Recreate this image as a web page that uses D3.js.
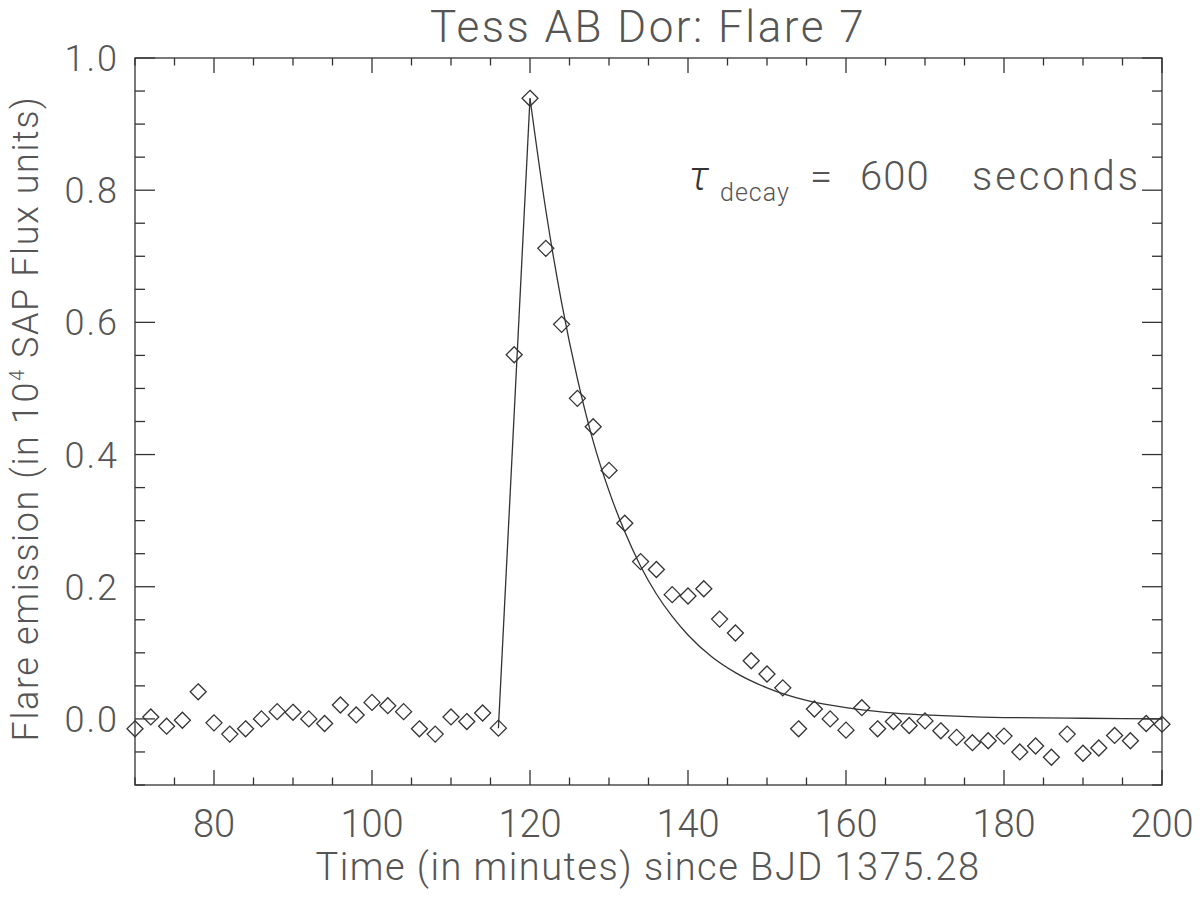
<!DOCTYPE html>
<html>
<head>
<meta charset="utf-8">
<script src="https://cdn.jsdelivr.net/npm/d3@7"></script>
<style>
  body { margin: 0; background: #fff; }
  text { font-family: Roboto, "DejaVu Sans", sans-serif; font-weight: 300; fill: #555; }
</style>
</head>
<body>
<div id="chart"></div>
<script>
// flare light curve (minutes, 1e4 SAP flux)
const times = [70, 72, 74, 76, 78, 80, 82, 84, 86, 88, 90, 92, 94, 96, 98, 100, 102, 104, 106, 108,
  110, 112, 114, 116, 118, 120, 122, 124, 126, 128, 130, 132, 134, 136, 138, 140, 142, 144, 146, 148,
  150, 152, 154, 156, 158, 160, 162, 164, 166, 168, 170, 172, 174, 176, 178, 180, 182, 184, 186, 188,
  190, 192, 194, 196, 198, 200];
const flux = [-0.015, 0.003, -0.011, -0.002, 0.041, -0.006, -0.023, -0.015, 0.0, 0.011, 0.010, 0.0, -0.007, 0.021, 0.006, 0.025, 0.020, 0.011, -0.015, -0.023,
  0.003, -0.004, 0.009, -0.014, 0.551, 0.939, 0.712, 0.597, 0.485, 0.442, 0.376, 0.296, 0.238, 0.226, 0.188, 0.186, 0.197, 0.151, 0.130, 0.088,
  0.068, 0.047, -0.015, 0.015, 0.0, -0.017, 0.017, -0.015, -0.004, -0.010, -0.003, -0.018, -0.028, -0.036, -0.033, -0.026, -0.050, -0.041, -0.058, -0.023,
  -0.052, -0.044, -0.025, -0.033, -0.007, -0.008];

// fitted model: straight rise, then decay (sampled off the plot)
const riseTimes = [116, 120];
const riseFlux = [-0.014, 0.939];
const decayTimes = [120, 122, 124, 126, 128, 130, 132, 134, 136, 138, 140, 143, 146, 150, 155, 160, 165, 170, 180, 190, 200];
const decayFlux = [0.939, 0.77, 0.63, 0.515, 0.42, 0.345, 0.283, 0.231, 0.189, 0.155, 0.127, 0.094, 0.070, 0.047, 0.028, 0.017, 0.010, 0.006, 0.002, 0.001, 0.0];

const xMajor = [80, 100, 120, 140, 160, 180, 200];
const yMajor = [0.0, 0.2, 0.4, 0.6, 0.8, 1.0];

const width = 1200, height = 897;
const margin = {top: 58, right: 38, bottom: 112, left: 135};

const svg = d3.select("#chart").append("svg")
  .attr("width", width)
  .attr("height", height);

const x = d3.scaleLinear().domain([70, 200]).range([margin.left, width - margin.right]);
const y = d3.scaleLinear().domain([-0.1, 1.0]).range([height - margin.bottom, margin.top]);

const axisColor = "#333";
const xMinor = d3.range(70, 201, 5);
const yMinor = d3.range(-0.1, 1.0001, 0.05).map(v => +v.toFixed(2));
const isMajX = v => v % 20 === 0;
const isMajY = v => Math.abs(Math.round(v * 5) - v * 5) < 1e-6 && v >= 0;

const frame = svg.append("g").attr("stroke", axisColor).attr("stroke-width", 1.3).attr("fill", "none");
frame.append("rect")
  .attr("x", x(70)).attr("y", y(1.0))
  .attr("width", x(200) - x(70)).attr("height", y(-0.1) - y(1.0));

xMinor.forEach(v => {
  const len = isMajX(v) ? 15 : 7.5;
  frame.append("line").attr("x1", x(v)).attr("x2", x(v)).attr("y1", y(-0.1)).attr("y2", y(-0.1) - len);
  frame.append("line").attr("x1", x(v)).attr("x2", x(v)).attr("y1", y(1.0)).attr("y2", y(1.0) + len);
});
yMinor.forEach(v => {
  const len = isMajY(v) ? 20 : 10;
  frame.append("line").attr("x1", x(70)).attr("x2", x(70) + len).attr("y1", y(v)).attr("y2", y(v));
  frame.append("line").attr("x1", x(200)).attr("x2", x(200) - len).attr("y1", y(v)).attr("y2", y(v));
});

svg.append("g").selectAll("text").data(xMajor).join("text")
  .attr("x", d => x(d)).attr("y", 837)
  .attr("text-anchor", "middle")
  .style("font-size", "38px")
  .text(d => d);

svg.append("g").selectAll("text").data(yMajor).join("text")
  .attr("x", 119).attr("y", d => y(d) + 13)
  .attr("text-anchor", "end")
  .style("font-size", "36px")
  .style("letter-spacing", "2px")
  .text(d => d.toFixed(1));

// fit line
const line = d3.line().x(d => x(d[0])).y(d => y(d[1]));
svg.append("path")
  .datum(riseTimes.map((t, i) => [t, riseFlux[i]]))
  .attr("fill", "none")
  .attr("stroke", axisColor)
  .attr("stroke-width", 1.3)
  .attr("d", line);
svg.append("path")
  .datum(decayTimes.map((t, i) => [t, decayFlux[i]]))
  .attr("fill", "none")
  .attr("stroke", axisColor)
  .attr("stroke-width", 1.3)
  .attr("d", line.curve(d3.curveMonotoneX));

// data diamonds
svg.append("g").selectAll("path").data(times.map((t, i) => [t, flux[i]])).join("path")
  .attr("transform", d => `translate(${x(d[0])},${y(d[1])})`)
  .attr("d", "M0,-8L8,0L0,8L-8,0Z")
  .attr("fill", "none")
  .attr("stroke", axisColor)
  .attr("stroke-width", 1.3);

// titles
svg.append("text")
  .attr("x", 648).attr("y", 42)
  .attr("text-anchor", "middle")
  .style("font-size", "44px")
  .style("letter-spacing", "2.5px")
  .text("Tess AB Dor: Flare 7");

svg.append("text")
  .attr("x", 648).attr("y", 880)
  .attr("text-anchor", "middle")
  .style("font-size", "38px")
  .style("letter-spacing", "1.5px")
  .text("Time (in minutes) since BJD 1375.28");

const yl = svg.append("text")
  .attr("transform", `translate(38,${(y(1.0) + y(-0.1)) / 2 - 3}) rotate(-90)`)
  .attr("text-anchor", "middle")
  .style("font-size", "36px")
  .style("letter-spacing", "1.6px");
yl.append("tspan").text("Flare emission (in 10");
yl.append("tspan").attr("dy", -14).style("font-size", "20px").text("4");
yl.append("tspan").attr("dy", 14).text(" SAP Flux units)");

// decay annotation
const ann = svg.append("g").style("font-size", "40px");
ann.append("text").attr("x", 689).attr("y", 190)
  .style("font-style", "italic").style("font-size", "40px").style("fill", "#333").text("τ");
ann.append("text").attr("x", 720).attr("y", 201)
  .style("font-size", "25px").style("letter-spacing", "1px").text("decay");
ann.append("text").attr("x", 810).attr("y", 190).text("=");
ann.append("text").attr("x", 860).attr("y", 190).style("letter-spacing", "1px").text("600");
ann.append("text").attr("x", 972).attr("y", 190).attr("textLength", 166).text("seconds");
</script>
</body>
</html>
